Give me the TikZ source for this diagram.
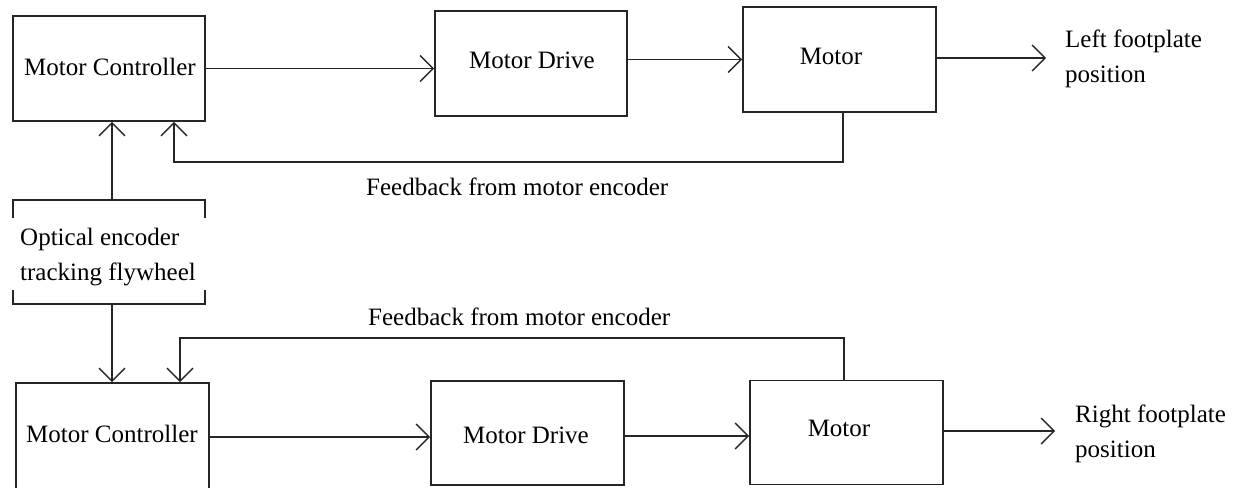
\documentclass[tikz,border=0pt]{standalone}
\usepackage{fontspec}
\setmainfont{Liberation Serif}
\usetikzlibrary{arrows.meta}
\begin{document}
\begin{tikzpicture}[x=1pt,y=-1pt,
  box/.style={draw=black!85, line width=1.6pt, inner sep=0pt},
  lbl/.style={inner sep=0pt, font=\fontsize{25}{35}\selectfont, anchor=base},
  mlbl/.style={inner sep=0pt, font=\fontsize{25}{35}\selectfont, align=left, anchor=west},
  conn/.style={draw=black!85, line width=1.6pt},
  >={Straight Barb[length=13pt,width=26pt,line width=1.4pt]}]
\useasboundingbox (0,0) rectangle (1236,487);
% top row boxes
\node[box, minimum width=192pt, minimum height=105pt] (mc1) at (109,68.5) {};
\node[box, minimum width=192pt, minimum height=105pt] (md1) at (531,63.5) {};
\node[box, minimum width=193pt, minimum height=105pt] (m1) at (839.5,59.5) {};
% bottom row boxes
\node[box, minimum width=193pt, minimum height=117pt] (mc2) at (112.5,441.5) {};
\node[box, minimum width=193pt, minimum height=104pt] (md2) at (527.5,433) {};
\node[box, minimum width=193pt, minimum height=104pt] (m2) at (846.5,432.5) {};
% texts in boxes
\node[lbl] (mc1t) at (110,75) {Motor Controller};
\node[lbl] (md1t) at (532,69) {Motor Drive};
\node[lbl] (m1t) at (831,65) {Motor};
\node[lbl] (mc2t) at (112,442) {Motor Controller};
\node[lbl] (md2t) at (526,443) {Motor Drive};
\node[lbl] (m2t) at (839,436) {Motor};
% optical encoder
\node[mlbl] (opt) at (20,256.7) {Optical encoder\\tracking flywheel};
\coordinate (optTL) at (13,200);
\coordinate (optTR) at (205,200);
\coordinate (optBL) at (13,304);
\coordinate (optBR) at (205,304);
\coordinate (optT) at (112,200);
\coordinate (optB) at (112,304);
\draw[conn] ([yshift=-18pt]optTL) -- (optTL) -- (optTR) -- ([yshift=-18pt]optTR);
\draw[conn] ([yshift=14pt]optBL) -- (optBL) -- (optBR) -- ([yshift=14pt]optBR);
\draw[conn,->] (optT) -- (optT |- mc1.south);
\draw[conn,->] (optB) -- (optB |- mc2.north);
% top row connectors
\draw[conn,->] (mc1.east) -- (mc1.east -| md1.west);
\draw[conn,->] (m1.west -| md1.east) -- (m1.west);
\coordinate (out1) at (1046,58);
\draw[conn,->] (m1.east |- out1) -- (out1);
\coordinate (fb1) at (843,162);
\coordinate (fb1e) at (174,162);
\draw[conn,->] (fb1 |- m1.south) -- (fb1) -- (fb1e) -- (fb1e |- mc1.south);
% bottom row connectors
\coordinate (a2) at (300,437);
\draw[conn,->] (a2 -| mc2.east) -- (a2 -| md2.west);
\coordinate (b2) at (700,436);
\draw[conn,->] (b2 -| md2.east) -- (b2 -| m2.west);
\coordinate (out2) at (1055,431);
\draw[conn,->] (m2.east |- out2) -- (out2);
\coordinate (fb2) at (844,338);
\coordinate (fb2e) at (180,338);
\draw[conn,->] (fb2 |- m2.north) -- (fb2) -- (fb2e) -- (fb2e |- mc2.north);
% labels
\node[lbl, anchor=base west] (fbl1) at (366,195) {Feedback from motor encoder};
\node[lbl, anchor=base west] (fbl2) at (368,325) {Feedback from motor encoder};
\node[mlbl] (lfp) at (1065,58.7) {Left footplate\\position};
\node[mlbl] (rfp) at (1075,434) {Right footplate\\position};
\end{tikzpicture}
\end{document}
